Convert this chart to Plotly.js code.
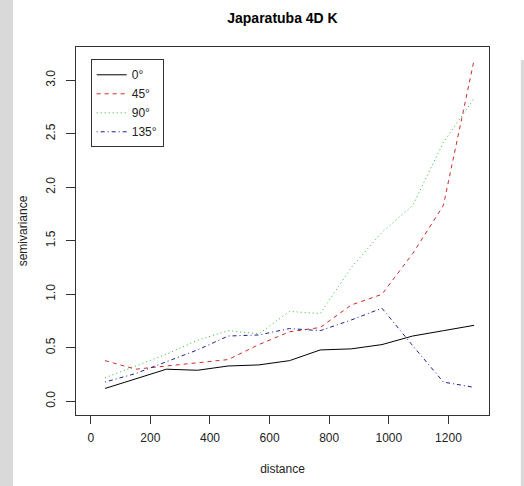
<!DOCTYPE html>
<html>
<head>
<meta charset="utf-8">
<script src="https://cdn.plot.ly/plotly-3.0.1.min.js"></script>
<style>html,body{margin:0;padding:0;background:#fff;}#chart{width:524px;height:486px;}</style>
</head>
<body>
<div id="chart"></div>
<script>
// lag distances
var distance = [48, 151, 254, 358, 461, 564, 667, 770, 874, 977, 1080, 1183, 1286];
// semivariance by direction
var dir0   = [0.12, 0.21, 0.30, 0.29, 0.33, 0.34, 0.38, 0.48, 0.49, 0.53, 0.61, 0.66, 0.71];
var dir45  = [0.38, 0.30, 0.33, 0.36, 0.39, 0.53, 0.65, 0.69, 0.90, 1.00, 1.38, 1.83, 3.19];
var dir90  = [0.22, 0.33, 0.44, 0.57, 0.66, 0.63, 0.84, 0.82, 1.25, 1.58, 1.83, 2.42, 2.83];
var dir135 = [0.18, 0.26, 0.37, 0.48, 0.61, 0.62, 0.68, 0.66, 0.76, 0.87, 0.52, 0.18, 0.13];
var seriesNames = ["0°", "45°", "90°", "135°"];
var xTicks = [0, 200, 400, 600, 800, 1000, 1200];
var yTicks = [0.0, 0.5, 1.0, 1.5, 2.0, 2.5, 3.0];
var yTickText = ["0.0", "0.5", "1.0", "1.5", "2.0", "2.5", "3.0"];

var styles = [
  {color: "#000000", dash: "solid"},
  {color: "#cc2a2a", dash: "4px,4px"},
  {color: "#2cbf2c", dash: "1px,3px"},
  {color: "#1e1e8e", dash: "1px,3px,4px,3px"}
];
var ys = [dir0, dir45, dir90, dir135];
var traces = ys.map(function (y, i) {
  return {
    x: distance, y: y, type: "scatter", mode: "lines", name: seriesNames[i],
    line: {color: styles[i].color, dash: styles[i].dash, width: 1}
  };
});

var font = "Liberation Sans, Arial, sans-serif";
var layout = {
  width: 524, height: 486,
  margin: {l: 76, r: 35, t: 47, b: 71, pad: 0},
  paper_bgcolor: "#ffffff", plot_bgcolor: "#ffffff",
  font: {family: font, size: 12, color: "#222"},
  title: {text: "<b>Japaratuba 4D K</b>", font: {family: font, size: 14, color: "#000"},
          x: 0.5, xref: "paper", xanchor: "center", y: 1 - 17.7 / 486, yref: "container", yanchor: "middle"},
  xaxis: {
    range: [-49.4, 1336], tickvals: xTicks, ticktext: xTicks.map(String),
    showgrid: false, zeroline: false, showline: true, mirror: true, linecolor: "#333", linewidth: 1,
    ticks: "outside", ticklen: 8, tickcolor: "#333", tickwidth: 1,
    tickfont: {family: font, size: 12, color: "#222"}, ticklabelstandoff: 4,
    title: {text: "distance", font: {family: font, size: 12, color: "#222"}, standoff: 20}
  },
  yaxis: {
    range: [-0.128, 3.311], tickvals: yTicks, ticktext: yTickText, tickangle: -90,
    showgrid: false, zeroline: false, showline: true, mirror: true, linecolor: "#333", linewidth: 1,
    ticks: "outside", ticklen: 9, tickcolor: "#333", tickwidth: 1,
    tickfont: {family: font, size: 12, color: "#222"}, ticklabelstandoff: 6,
    title: {text: "semivariance", font: {family: font, size: 12, color: "#222"}, standoff: 14}
  },
  showlegend: true,
  legend: {
    x: 0.0356, y: 0.9666, xanchor: "left", yanchor: "top",
    bgcolor: "#ffffff", bordercolor: "#333", borderwidth: 1,
    font: {family: font, size: 12, color: "#222"}, itemwidth: 30, tracegroupgap: 0
  },
  shapes: [
    {type: "rect", xref: "paper", yref: "paper", x0: -0.19, x1: -0.1525, y0: -0.2, y1: 1.14,
     fillcolor: "#d9d9d9", line: {width: 0}, layer: "below"},
    {type: "rect", xref: "paper", yref: "paper", x0: 1.077, x1: 1.09, y0: -0.2, y1: 0.965,
     fillcolor: "#d9d9d9", line: {width: 0}, layer: "below"}
  ]
};

Plotly.newPlot("chart", traces, layout, {staticPlot: true, displayModeBar: false});
</script>
</body>
</html>
